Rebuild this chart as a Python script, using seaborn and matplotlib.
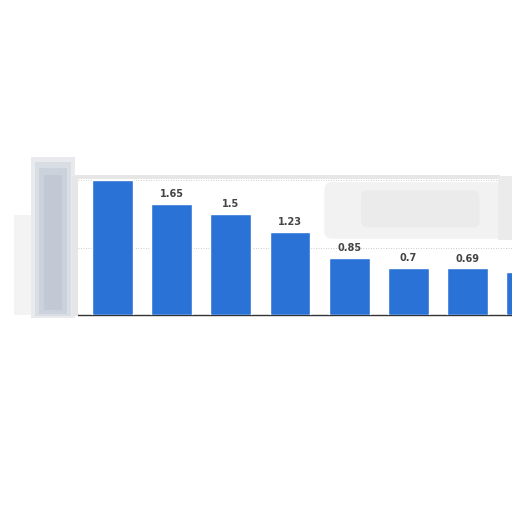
import matplotlib
matplotlib.use("Agg")
import matplotlib.pyplot as plt
import matplotlib.patches as mpatches
import seaborn as sns
import pandas as pd

# values (first bar's label is cut off, last bar is partial)
categories = ["c1", "c2", "c3", "c4", "c5", "c6", "c7", "c8"]
values = [2.0, 1.65, 1.5, 1.23, 0.85, 0.7, 0.69, 0.64]
labels = ["", "1.65", "1.5", "1.23", "0.85", "0.7", "0.69", ""]

df = pd.DataFrame({"cat": categories, "val": values})

sns.set_style("white")
fig = plt.figure(figsize=(5.12, 5.12), dpi=100)

W = 512.0


def fig_rect(x0, y0, x1, y1, **kw):
    # pixel box (top-left origin) -> figure patch
    r = mpatches.Rectangle((x0 / W, 1 - y1 / W), (x1 - x0) / W, (y1 - y0) / W,
                           transform=fig.transFigure, **kw)
    fig.patches.append(r)


# blurred left block (hidden axis labels)
fig_rect(14, 215, 36, 315, color="#f3f3f3", lw=0)
fig_rect(31, 157, 75, 318, color="#e8eaee", lw=0)
fig_rect(35, 162, 71, 316, color="#d9dde4", lw=0)
fig_rect(39, 168, 67, 314, color="#ccd2dc", lw=0)
fig_rect(44, 175, 62, 310, color="#c2c9d5", lw=0)
fig_rect(72, 176, 78, 316, color="#e6e6e6", lw=0)
# grey frame along plot top and its right corner
fig_rect(75, 175, 500, 179, color="#e6e6e6", lw=0)
fig_rect(498, 176, 512, 240, color="#ebebeb", lw=0)

ax = fig.add_axes([78 / W, 1 - 315 / W, 434 / W, 137 / W])
sns.barplot(data=df, x="cat", y="val", color="#2b72d7", saturation=1,
            width=0.69, ax=ax, zorder=3)

# blurred smudge in the top right of the plot
ax.add_patch(mpatches.FancyBboxPatch((3.7, 1.25), 2.8, 0.6, boxstyle="round,pad=0.12",
                                     color="#f2f2f2", lw=0, zorder=1))
ax.add_patch(mpatches.FancyBboxPatch((4.3, 1.4), 1.8, 0.35, boxstyle="round,pad=0.1",
                                     color="#ebebeb", lw=0, zorder=1))

for i, (v, lab) in enumerate(zip(values, labels)):
    if lab:
        ax.text(i, v + 0.07, lab, ha="center", va="bottom", fontsize=7,
                fontweight="bold", color="#444444", zorder=4)

ax.set_xlim(-0.58, 6.75)
ax.set_ylim(0, 2.03)
ax.yaxis.grid(True, linestyle=(0, (1, 2)), color="#bbbbbb", lw=0.6, zorder=0)
ax.set_yticks([1, 2])
ax.set_xticks([])
ax.tick_params(left=False, labelleft=False)
ax.set_xlabel("")
ax.set_ylabel("")
for s in ["top", "left", "right"]:
    ax.spines[s].set_visible(False)
ax.spines["bottom"].set_color("#333333")
ax.spines["bottom"].set_linewidth(1)
ax.set_facecolor("white")

fig.savefig("out.png", dpi=100)
